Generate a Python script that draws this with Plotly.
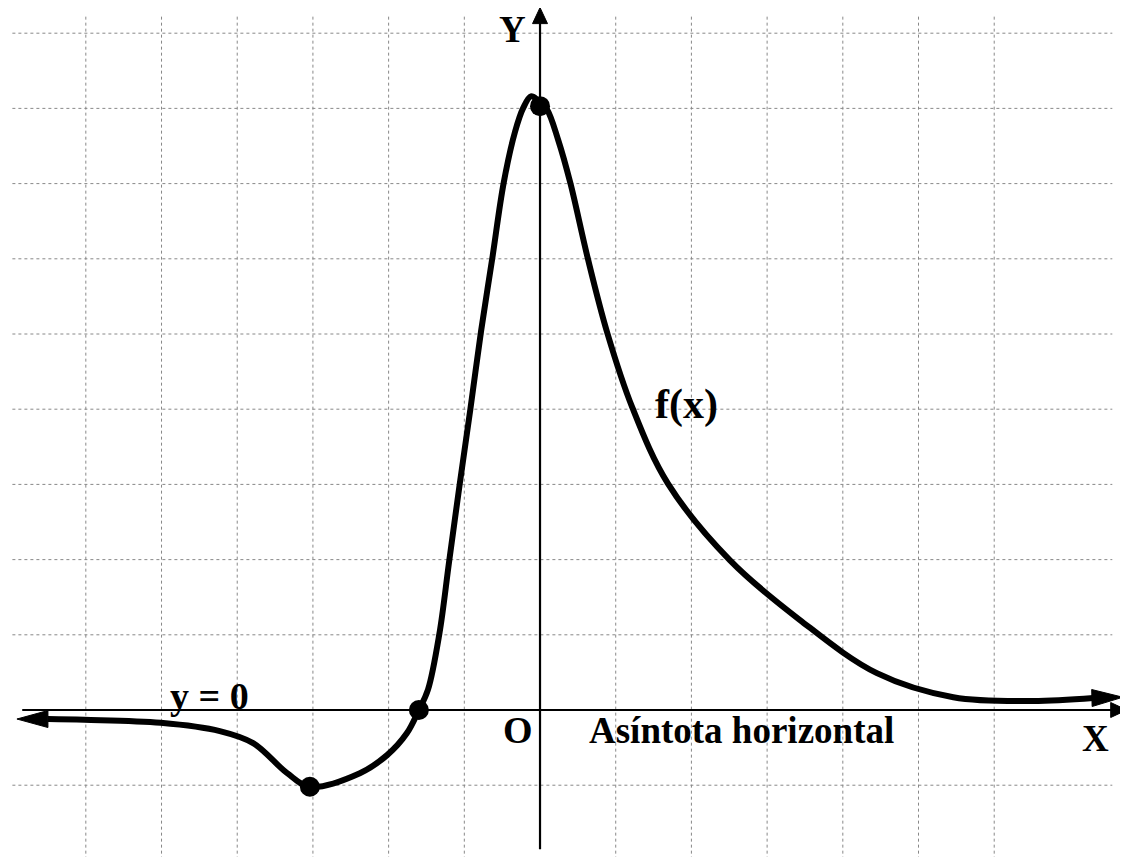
import plotly.graph_objects as go

# ---- data (grid units) ----
curve_x = [-6.50, -6.02, -5.01, -4.23, -3.79, -3.34, -3.04, -2.38, -2.02, -1.76, -1.60,
           -1.48, -1.33, -1.20, -1.06, -0.92, -0.78, -0.63, -0.48, -0.33, -0.22, -0.12,
           -0.03, 0.09, 0.24, 0.40, 0.63, 0.89, 1.22, 1.69, 2.51, 3.43, 4.45, 5.46, 6.51, 7.31]
curve_y = [-0.12, -0.13, -0.17, -0.28, -0.44, -0.84, -1.02, -0.84, -0.60, -0.31, 0.00,
           0.27, 1.01, 1.98, 3.01, 4.00, 5.03, 6.01, 7.01, 7.69, 8.01, 8.16,
           8.11, 7.99, 7.58, 7.01, 6.01, 5.01, 4.02, 3.01, 1.99, 1.20, 0.49, 0.17, 0.12, 0.16]
tail_left = (-6.91, -0.12)
tail_right = (7.70, 0.17)

points_x = [-3.04, -1.60, 0.0]
points_y = [-1.02, 0.0, 8.03]

grid_x = [-6, -5, -4, -3, -2, -1, 1, 2, 3, 4, 5, 6]
grid_y = [-1, 1, 2, 3, 4, 5, 6, 7, 8, 9]

x_axis = (-6.84, 7.75)
y_axis = (-1.85, 9.34)

labels = ["X", "O", "y = 0", "Asíntota horizontal", "f(x)"]
labels_x = [7.34, -0.29, -4.37, 2.66, 1.93]
labels_y = [-0.38, -0.27, 0.19, -0.27, 4.06]
labels_size = [37, 38, 38, 37, 42]
y_label = ("Y", -0.357, 37)

# ---- scale (pixels per grid unit) ----
UX, UY = 75.7, 75.2
XMIN, XMAX = -7.028, 7.873
YMIN, YMAX = -2.061, 9.335

FONT = "Liberation Serif, Times New Roman, serif"


def head(tip, frm, length, half):
    """triangle (data coords) with its apex at tip, pointing away from frm"""
    dx = (tip[0] - frm[0]) * UX
    dy = (tip[1] - frm[1]) * UY
    n = (dx * dx + dy * dy) ** 0.5
    ux, uy = dx / n, dy / n
    bx, by = -ux * length, -uy * length
    px, py = -uy * half, ux * half
    xs = [tip[0], tip[0] + (bx + px) / UX, tip[0] + (bx - px) / UX, tip[0]]
    ys = [tip[1], tip[1] + (by + py) / UY, tip[1] + (by - py) / UY, tip[1]]
    return xs, ys


fig = go.Figure()

grid_style = dict(color="#888888", width=1, dash="dot")
for gx in grid_x:
    fig.add_trace(go.Scatter(x=[gx, gx], y=[9.22, YMIN], mode="lines", line=grid_style,
                             hoverinfo="skip", showlegend=False))
for gy in grid_y:
    fig.add_trace(go.Scatter(x=[-6.97, 7.56], y=[gy, gy], mode="lines", line=grid_style,
                             hoverinfo="skip", showlegend=False))

# axes
fig.add_trace(go.Scatter(x=[x_axis[0], x_axis[1] - 0.1], y=[0, 0], mode="lines",
                         line=dict(color="black", width=2.2), showlegend=False, hoverinfo="skip"))
fig.add_trace(go.Scatter(x=[0, 0], y=[y_axis[0], y_axis[1] - 0.1], mode="lines",
                         line=dict(color="black", width=2.2), showlegend=False, hoverinfo="skip"))

# curve
fig.add_trace(go.Scatter(x=curve_x, y=curve_y, mode="lines",
                         line=dict(color="black", width=6, shape="spline", smoothing=1.0),
                         showlegend=False, hoverinfo="skip"))

# arrow heads
heads = [
    head((x_axis[1], 0), (x_axis[0], 0), 16, 7.5),
    head((0, y_axis[1]), (0, y_axis[0]), 16, 7.5),
    head(tail_left, (curve_x[0], curve_y[0]), 31, 8.5),
    head(tail_right, (curve_x[-1], curve_y[-1]), 31, 8.5),
]
for hx, hy in heads:
    fig.add_trace(go.Scatter(x=hx, y=hy, mode="lines", fill="toself", fillcolor="black",
                             line=dict(color="black", width=1), showlegend=False, hoverinfo="skip"))

# key points
fig.add_trace(go.Scatter(x=points_x, y=points_y, mode="markers",
                         marker=dict(color="black", size=20),
                         showlegend=False, hoverinfo="skip"))

for t, x, y, s in zip(labels, labels_x, labels_y, labels_size):
    fig.add_annotation(x=x, y=y, xref="x", yref="y", text="<b>%s</b>" % t, showarrow=False,
                       font=dict(family=FONT, size=s, color="black"))
fig.add_annotation(x=y_label[1], y=YMAX, xref="x", yref="y", yanchor="top", borderpad=0,
                   text="<b>%s</b>" % y_label[0], showarrow=False,
                   font=dict(family=FONT, size=y_label[2], color="black"))

fig.update_layout(
    width=1128, height=857, margin=dict(l=0, r=0, t=0, b=0),
    plot_bgcolor="white", paper_bgcolor="white",
    xaxis=dict(range=[XMIN, XMAX], visible=False, fixedrange=True),
    yaxis=dict(range=[YMIN, YMAX], visible=False, fixedrange=True),
)
fig.write_html("out.html")
